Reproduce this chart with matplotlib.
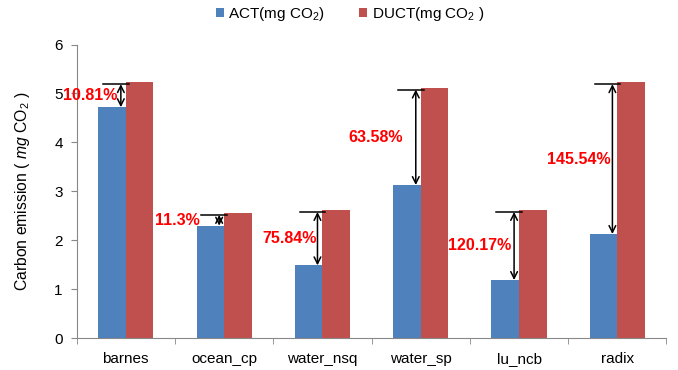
import matplotlib
matplotlib.use("Agg")
import matplotlib.pyplot as plt
import numpy as np

plt.rcParams['font.family'] = ['Liberation Sans', 'DejaVu Sans']
plt.rcParams['mathtext.fontset'] = 'custom'
plt.rcParams['mathtext.rm'] = 'Liberation Sans'
plt.rcParams['mathtext.it'] = 'Liberation Sans:italic'

# 数据
categories = ['barnes', 'ocean_cp', 'water_nsq', 'water_sp', 'lu_ncb', 'radix']
act = [4.72, 2.30, 1.49, 3.13, 1.19, 2.13]
duct = [5.23, 2.56, 2.62, 5.12, 2.62, 5.23]
pct_labels = ['10.81%', '11.3%', '75.84%', '63.58%', '120.17%', '145.54%']

# 标签水平位置微调（类别单位，相对类别中心）
label_dx = [-0.085, -0.25, -0.055, -0.18, -0.08, -0.07]

blue = '#4F81BD'
red = '#C0504D'

fig = plt.figure(figsize=(6.78, 3.70), dpi=100)
ax = fig.add_axes([0.113, 0.0857, 0.870, 0.794])

x = np.arange(len(categories))
w = 0.28
ax.bar(x - w / 2, act, w, color=blue, label=r'ACT(mg CO$_2$)')
ax.bar(x + w / 2, duct, w, color=red, label=r'DUCT(mg CO$_2$ )')

# 箭头和百分比标注
for i in range(len(categories)):
    top = duct[i] - 0.04
    ax_x = x[i] - 0.05
    ax.plot([x[i] - 0.23, x[i] + 0.03], [top, top], color='black', lw=1.1)
    ax.annotate('', xy=(ax_x, act[i]), xytext=(ax_x, top),
                arrowprops=dict(arrowstyle='<->', color='black', lw=1.1,
                                shrinkA=0, shrinkB=0, mutation_scale=12))
    ax.text(x[i] + label_dx[i], (act[i] + top) / 2, pct_labels[i],
            color='#FF0000', fontweight='bold', fontsize=11.5,
            ha='right', va='center')

ax.set_xlim(-0.5, len(categories) - 0.5)
ax.set_ylim(0, 6)
ax.set_yticks(range(0, 7))
ax.set_xticks(x)
ax.set_xticklabels(categories)
ax.set_xticks(np.arange(-0.5, len(categories)), minor=True)
ax.tick_params(axis='x', which='major', length=0, pad=10, labelsize=11)
ax.tick_params(axis='x', which='minor', length=4, color='#888888')
ax.tick_params(axis='y', length=4, color='#888888', labelsize=11, pad=6)

for s in ['top', 'right']:
    ax.spines[s].set_visible(False)
for s in ['left', 'bottom']:
    ax.spines[s].set_color('#888888')

ax.set_ylabel(r'Carbon emission ( $\mathit{mg}$ CO$_2$ )', fontsize=11.3, labelpad=16)

fig.legend(loc='center', bbox_to_anchor=(0.516, 0.962), ncol=2, frameon=False,
           fontsize=11, handlelength=0.55, handleheight=0.55, columnspacing=2.2,
           handletextpad=0.3)

fig.savefig('out.png', dpi=100)
